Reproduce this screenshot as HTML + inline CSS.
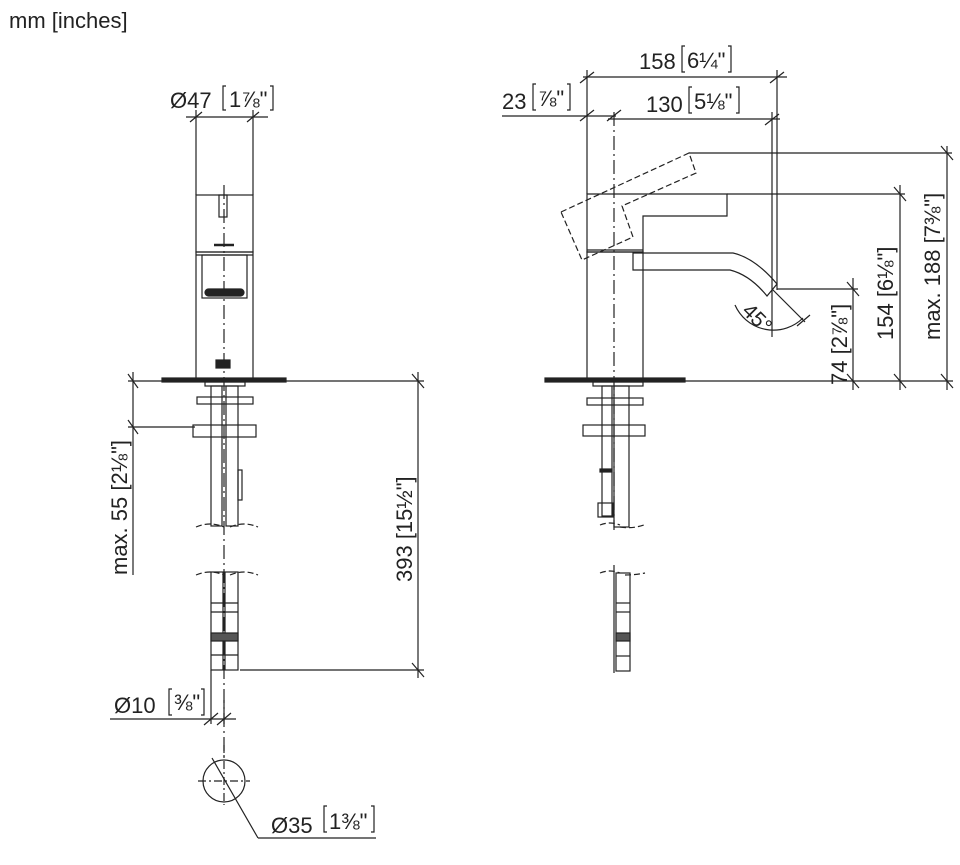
<!DOCTYPE html>
<html><head><meta charset="utf-8"><style>
html,body{margin:0;padding:0;background:#fff;}
svg{display:block;}
text{font-family:"Liberation Sans","DejaVu Sans",sans-serif;fill:#222;}
</style></head><body>
<svg width="960" height="865" viewBox="0 0 960 865" xmlns="http://www.w3.org/2000/svg">
<g stroke="#222" stroke-width="1.2" fill="none">
<text x="9" y="28" font-size="22" stroke="none" fill="#222">mm [inches]</text>

<!-- LEFT VIEW -->
<line x1="186" y1="117" x2="268" y2="117"/>
<line x1="196" y1="110" x2="196" y2="195"/>
<line x1="253" y1="110" x2="253" y2="195"/>
<line x1="190" y1="122" x2="202" y2="112"/><line x1="247" y1="122" x2="259" y2="112"/>
<text x="170" y="108" font-size="22" stroke="none">Ø47</text>
<path d="M226 86 h-3 v24 h3 M270 86 h3 v24 h-3"/>
<text x="229" y="107" font-size="22" stroke="none">1⅞"</text>
<rect x="196" y="195" width="57" height="57"/>
<rect x="196" y="252" width="57" height="129"/>
<line x1="196" y1="255" x2="253" y2="255"/>
<rect x="219" y="195" width="8" height="22"/>
<line x1="214" y1="245" x2="234" y2="245" stroke-width="2.5"/>
<rect x="202" y="255" width="45" height="43"/>
<rect x="205" y="289" width="39" height="7" rx="3.5" fill="#222"/>
<rect x="216" y="360" width="14" height="8" fill="#222"/>
<line x1="224" y1="185" x2="224" y2="760" stroke-dasharray="14,4,2,4"/>
<rect x="162" y="378" width="124" height="4" fill="#222"/>
<rect x="205" y="382" width="40" height="4"/>
<rect x="211" y="386" width="11" height="140"/>
<rect x="226" y="386" width="12" height="140"/>
<rect x="197" y="397" width="56" height="7"/>
<rect x="193" y="425" width="63" height="12"/>
<rect x="238" y="470" width="4" height="30"/>
<path d="M196 527 q14 -6 28 0 M230 527 q14 -6 28 0" stroke-dasharray="6,3"/>
<path d="M196 575 q14 -6 28 0 M230 575 q14 -6 28 0" stroke-dasharray="6,3"/>
<rect x="211" y="572" width="12" height="98"/>
<rect x="225" y="572" width="13" height="98"/>
<line x1="211" y1="603" x2="238" y2="603"/><line x1="211" y1="612" x2="238" y2="612"/>
<rect x="211" y="633" width="27" height="8" fill="#555"/>
<line x1="211" y1="655" x2="238" y2="655"/>
<line x1="133" y1="372" x2="133" y2="575"/>
<line x1="128" y1="381" x2="195" y2="381"/>
<line x1="128" y1="427" x2="195" y2="427"/>
<line x1="128" y1="374" x2="138" y2="388"/><line x1="128" y1="420" x2="138" y2="434"/>
<text transform="translate(127,575) rotate(-90)" font-size="22" stroke="none">max. 55 [2⅛"]</text>
<line x1="418" y1="372" x2="418" y2="678"/>
<line x1="286" y1="381" x2="424" y2="381"/>
<line x1="240" y1="670" x2="424" y2="670"/>
<line x1="412" y1="374" x2="424" y2="388"/><line x1="412" y1="663" x2="424" y2="677"/>
<text transform="translate(412,582) rotate(-90)" font-size="22" stroke="none">393 [15½"]</text>
<line x1="110" y1="719" x2="236" y2="719"/>
<line x1="211" y1="670" x2="211" y2="724"/>
<line x1="224" y1="700" x2="224" y2="724"/>
<line x1="204" y1="725" x2="218" y2="713"/><line x1="217" y1="725" x2="231" y2="713"/>
<text x="114" y="713" font-size="22" stroke="none">Ø10</text>
<path d="M172 689 h-3 v26 h3 M201 689 h3 v26 h-3"/>
<text x="174" y="710" font-size="22" stroke="none">⅜"</text>
<circle cx="224" cy="781" r="21"/>
<line x1="198" y1="781" x2="250" y2="781" stroke-dasharray="8,3,2,3"/>
<line x1="224" y1="745" x2="224" y2="805" stroke-dasharray="8,3,2,3"/>
<line x1="212" y1="758" x2="258" y2="838"/>
<line x1="258" y1="838" x2="376" y2="838"/>
<text x="271" y="833" font-size="22" stroke="none">Ø35</text>
<path d="M327 806 h-3 v26 h3 M371 806 h3 v26 h-3"/>
<text x="329" y="829" font-size="22" stroke="none">1⅜"</text>

<!-- RIGHT VIEW -->
<line x1="583" y1="77" x2="787" y2="77"/>
<line x1="587" y1="70" x2="587" y2="194"/>
<line x1="777" y1="70" x2="777" y2="290"/>
<line x1="580" y1="83" x2="594" y2="72"/><line x1="770" y1="83" x2="784" y2="72"/>
<text x="639" y="69" font-size="22" stroke="none">158</text>
<path d="M685 46 h-3 v26 h3 M728 46 h3 v26 h-3"/>
<text x="687" y="68" font-size="22" stroke="none">6¼"</text>
<line x1="502" y1="116" x2="616" y2="116"/>
<line x1="580" y1="121" x2="594" y2="110"/><line x1="607" y1="121" x2="621" y2="110"/>
<text x="502" y="109" font-size="22" stroke="none">23</text>
<path d="M536 84 h-3 v26 h3 M567 84 h3 v26 h-3"/>
<text x="538" y="106" font-size="22" stroke="none">⅞"</text>
<line x1="608" y1="119" x2="780" y2="119"/>
<line x1="772" y1="112" x2="772" y2="337"/>
<line x1="765" y1="125" x2="779" y2="114"/>
<text x="646" y="112" font-size="22" stroke="none">130</text>
<path d="M692 87 h-3 v26 h3 M736 87 h3 v26 h-3"/>
<text x="694" y="109" font-size="22" stroke="none">5⅛"</text>
<line x1="614" y1="112" x2="614" y2="530" stroke-dasharray="14,4,2,4"/>
<path d="M587 194 H727 V216 H643 V252 H587 Z"/>
<line x1="587" y1="250" x2="643" y2="250"/>
<rect x="587" y="252" width="56" height="128"/>
<path d="M633 253 H733 Q755 258 777 284 L767 296 Q750 275 730 270 H633 Z"/>
<path d="M561 212 L689 153 L696 173 L622 206 L633 237 L582 260 Z" stroke-dasharray="6,3"/>
<rect x="545" y="378" width="140" height="4" fill="#222"/>
<rect x="593" y="382" width="50" height="4"/>
<rect x="602" y="386" width="10" height="130"/>
<rect x="614" y="386" width="15" height="141"/>
<rect x="587" y="398" width="56" height="7"/>
<rect x="583" y="425" width="62" height="11"/>
<rect x="598" y="503" width="15" height="14"/>
<rect x="600" y="469" width="12" height="3" fill="#222"/>
<path d="M600 525 q10 -4 20 0 M620 527 q12 2 24 -2" stroke-dasharray="6,3"/>
<path d="M600 573 q10 -4 20 0 M625 575 q10 0 20 -2" stroke-dasharray="6,3"/>
<line x1="614" y1="565" x2="614" y2="673"/>
<rect x="616" y="573" width="14" height="98"/>
<line x1="616" y1="603" x2="630" y2="603"/><line x1="616" y1="612" x2="630" y2="612"/>
<rect x="616" y="633" width="14" height="8" fill="#555"/>
<line x1="616" y1="656" x2="630" y2="656"/>
<line x1="772" y1="289" x2="805" y2="322"/>
<path d="M735 305 A42 42 0 0 0 803 318"/>
<line x1="797" y1="326" x2="810" y2="315"/>
<text transform="translate(741,312) rotate(45)" font-size="21" stroke="none">45°</text>
<line x1="853" y1="278" x2="853" y2="390"/>
<line x1="777" y1="289" x2="858" y2="289"/>
<line x1="847" y1="282" x2="859" y2="296"/><line x1="847" y1="374" x2="859" y2="388"/>
<text transform="translate(847,385) rotate(-90)" font-size="22" stroke="none">74 [2⅞"]</text>
<line x1="900" y1="185" x2="900" y2="390"/>
<line x1="727" y1="194" x2="905" y2="194"/>
<line x1="894" y1="187" x2="906" y2="201"/><line x1="894" y1="374" x2="906" y2="388"/>
<text transform="translate(893,340) rotate(-90)" font-size="22" stroke="none">154 [6⅛"]</text>
<line x1="947" y1="146" x2="947" y2="390"/>
<line x1="689" y1="153" x2="952" y2="153"/>
<line x1="941" y1="146" x2="953" y2="160"/><line x1="941" y1="374" x2="953" y2="388"/>
<text transform="translate(940,340) rotate(-90)" font-size="22" stroke="none">max. 188 [7⅜"]</text>
<line x1="685" y1="381" x2="953" y2="381"/>
</g>
</svg>
</body></html>
